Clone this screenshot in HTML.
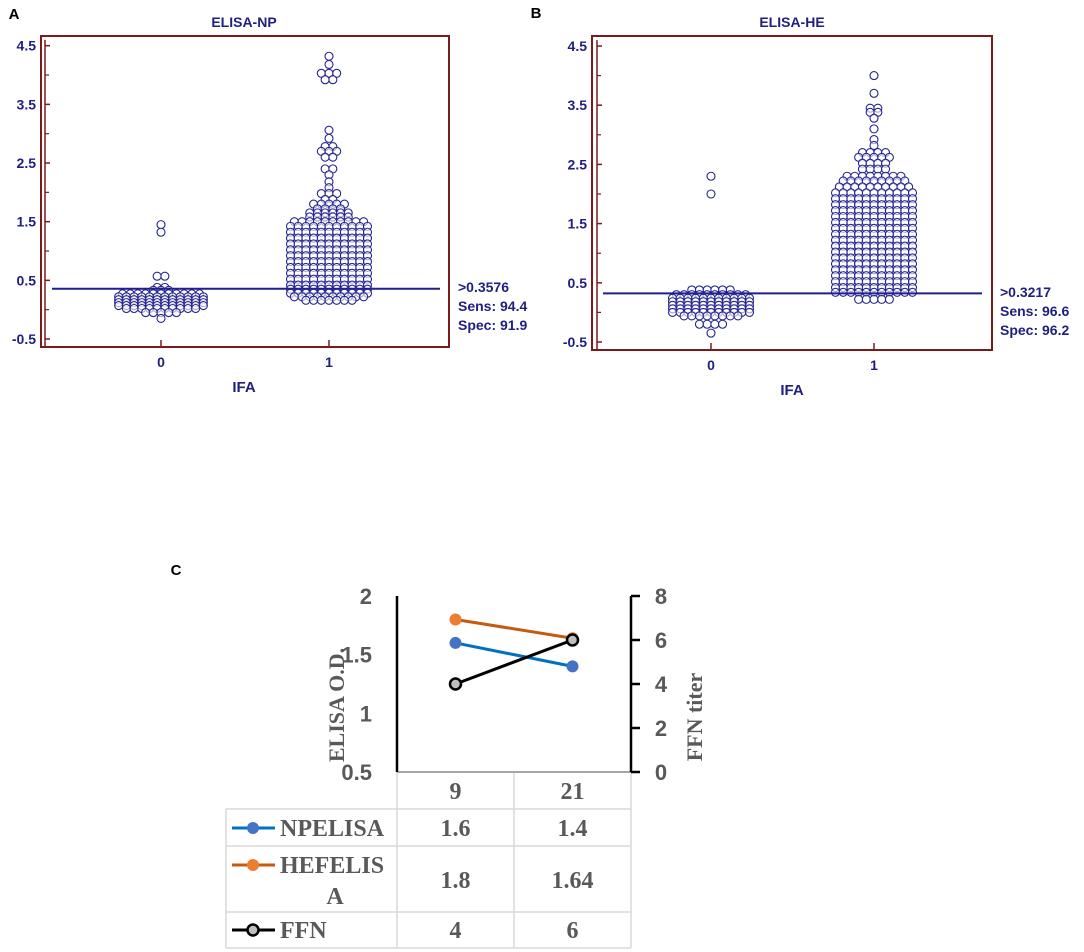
<!DOCTYPE html>
<html><head><meta charset="utf-8"><style>
html,body{margin:0;padding:0;background:#fff;}
svg{display:block;}
.nv{fill:#1f1f7f;font-family:"Liberation Sans",sans-serif;font-weight:bold;}
.gs{fill:#595959;font-family:"Liberation Sans",sans-serif;font-weight:bold;}
.gr{fill:#595959;font-family:"Liberation Serif",serif;font-weight:bold;}
</style></head><body>
<svg id="fig" width="1084" height="952" viewBox="0 0 1084 952" xmlns="http://www.w3.org/2000/svg">
<g id="panelA"></g>
<g id="panelB"></g>
<g id="panelC"></g>
</svg>
<script>
// ---- Panel A data: value levels and number of points at each level ----
const aG0Levels = [1.45,1.32,0.57,0.38,0.33,0.27,0.22,0.17,0.12,0.07,0.02,-0.05,-0.15];
const aG0Counts = [1,1,2,2,3,11,12,12,12,12,10,5,1];
const aG1Levels = [4.32,4.18,4.03,3.92,3.06,2.92,2.78,2.70,2.60,2.40,2.30,2.18,2.08,1.98,1.88,1.80,1.72,1.65,1.58,1.50,1.42,1.32,1.22,1.12,1.02,0.92,0.82,0.72,0.62,0.52,0.42,0.35,0.28,0.22,0.16];
const aG1Counts = [1,1,3,2,1,1,2,3,2,2,1,1,1,3,2,5,4,6,6,10,11,11,11,11,11,11,11,11,11,11,11,11,11,10,7];
const aCutoff = 0.3576;
const aStats = [">0.3576","Sens: 94.4","Spec: 91.9"];
// ---- Panel B data ----
const bG0Levels = [2.3,2.0,0.38,0.30,0.24,0.18,0.12,0.06,0.0,-0.06,-0.2,-0.35];
const bG0Counts = [1,1,6,10,11,11,11,11,11,8,4,1];
const bG1Levels = [4.0,3.7,3.45,3.38,3.28,3.1,2.92,2.82,2.7,2.62,2.52,2.42,2.3,2.22,2.12,2.02,1.92,1.82,1.72,1.62,1.52,1.42,1.32,1.22,1.12,1.02,0.92,0.82,0.72,0.62,0.52,0.42,0.34,0.22];
const bG1Counts = [1,1,2,2,1,1,1,1,4,5,4,4,8,9,10,11,11,11,11,11,11,11,11,11,11,11,11,11,11,11,11,11,11,5];
const bCutoff = 0.3217;
const bStats = [">0.3217","Sens: 96.6","Spec: 96.2"];
const yTickLabels = ["4.5","3.5","2.5","1.5","0.5","-0.5"];
const yTickValues = [4.5,3.5,2.5,1.5,0.5,-0.5];
const yMinorValues = [4,3,2,1,0];
const catLabels = ["0","1"];
// ---- Panel C data ----
const cCats = ["9","21"];
const cNP = [1.6,1.4];
const cHE = [1.8,1.64];
const cFFN = [4,6];
const cLeftTicks = [0.5,1,1.5,2];
const cLeftTickLabels = ["0.5","1","1.5","2"];
const cRightTicks = [0,2,4,6,8];
const cRightTickLabels = ["0","2","4","6","8"];
const cNPLabels = ["1.6","1.4"];
const cHELabels = ["1.8","1.64"];
const cFFNLabels = ["4","6"];

const NS="http://www.w3.org/2000/svg";
function mk(tag, attrs, parent, txt){const e=document.createElementNS(NS,tag);for(const k in attrs)e.setAttribute(k,attrs[k]);if(txt!==undefined)e.textContent=txt;parent.appendChild(e);return e;}

function panel(g, cfg){
  const red="#7b1a1a";
  const ys = v => cfg.yBot - (v+0.5)*(cfg.yBot-cfg.yTop)/5;
  const t=mk('text',{x:cfg.lblX,y:cfg.lblY,'font-size':15,'text-anchor':'middle',fill:'#000','font-family':'Liberation Sans, sans-serif','font-weight':'bold'},g,cfg.label);
  
  
  const ti=mk('text',{x:cfg.titleX,y:27,'font-size':14,'text-anchor':'middle',class:'nv'},g,cfg.title);
  
  
  const fr=mk('rect',{x:cfg.fx0,y:cfg.fy0,width:cfg.fx1-cfg.fx0,height:cfg.fy1-cfg.fy0,fill:'none',stroke:red,'stroke-width':2},g);
  
  
  const ax=mk('line',{x1:cfg.axX,x2:cfg.axX,y1:ys(4.6),y2:cfg.fy1,stroke:red,'stroke-width':1.5},g);
  
  
  yTickValues.forEach((v,i)=>{
    const tk=mk('line',{x1:cfg.axX,x2:cfg.axX+5,y1:ys(v),y2:ys(v),stroke:red,'stroke-width':1.5},g);
    
    
    const tl=mk('text',{x:cfg.tickRight,y:ys(v)+5,'font-size':14,'text-anchor':'end',class:'nv'},g,yTickLabels[i]);
    
    
  });
  yMinorValues.forEach(v=>{
    const tk=mk('line',{x1:cfg.axX,x2:cfg.axX+4,y1:ys(v),y2:ys(v),stroke:red,'stroke-width':1.2},g);
    
    
  });
  cfg.cats.forEach((cx,i)=>{
    const tk=mk('line',{x1:cx,x2:cx,y1:cfg.fy1-7,y2:cfg.fy1,stroke:red,'stroke-width':1.5},g);
    
    
    const tl=mk('text',{x:cx,y:cfg.fy1+20,'font-size':14,'text-anchor':'middle',class:'nv'},g,catLabels[i]);
    
    
  });
  const xt=mk('text',{x:cfg.titleX,y:cfg.fy1+45,'font-size':15,'text-anchor':'middle',class:'nv'},g,'IFA');
  
  
  const groups=[[cfg.g0L,cfg.g0C],[cfg.g1L,cfg.g1C]];
  groups.forEach((gr,gi)=>{
    const gg=mk('g',{},g);
    
    
    gr[0].forEach((lv,li)=>{
      const n=gr[1][li];
      for(let k=0;k<n;k++){
        const off=(k-(n-1)/2)*7.7;
        const c=mk('circle',{cx:cfg.cats[gi]+off,cy:ys(lv),r:4,fill:'#fff','fill-opacity':0.6,stroke:'#26268f','stroke-width':1.1},gg);
        
        
      }
    });
  });
  const cl=mk('line',{x1:cfg.cutX0,x2:cfg.cutX1,y1:ys(cfg.cut),y2:ys(cfg.cut),stroke:'#1f1f8f','stroke-width':2},g);
  
  
  cfg.stats.forEach((s,i)=>{
    const st=mk('text',{x:cfg.statX,y:cfg.statY+i*19,'font-size':14,class:'nv'},g,s);
    
    
  });
}
panel(document.getElementById('panelA'),{label:'A',lblX:14,lblY:19,title:'ELISA-NP',titleX:244,fx0:41,fy0:36,fx1:449,fy1:347,axX:45,yTop:45.7,yBot:339,tickRight:36,cats:[161,329],g0L:aG0Levels,g0C:aG0Counts,g1L:aG1Levels,g1C:aG1Counts,cut:aCutoff,cutX0:52,cutX1:440,stats:aStats,statX:458,statY:292});
panel(document.getElementById('panelB'),{label:'B',lblX:536,lblY:18,title:'ELISA-HE',titleX:792,fx0:592,fy0:36,fx1:992,fy1:350,axX:597,yTop:46,yBot:342,tickRight:587,cats:[711,874],g0L:bG0Levels,g0C:bG0Counts,g1L:bG1Levels,g1C:bG1Counts,cut:bCutoff,cutX0:603,cutX1:982,stats:bStats,statX:1000,statY:297});

// ---- Panel C ----
(function(){
  const g=document.getElementById('panelC');
  const xL=397,xR=631,yT=596,yB=772;
  const yl=v=>yB-(v-0.5)*(yB-yT)/1.5;
  const yr=v=>yB-v*(yB-yT)/8;
  const xc=i=>xL+(i+0.5)*(xR-xL)/cCats.length;
  const lb=mk('text',{x:176,y:575,'font-size':15,'text-anchor':'middle','font-family':'Liberation Sans, sans-serif','font-weight':'bold'},g,'C');
  
  
  const grid=mk('g',{stroke:'#d9d9d9','stroke-width':1.5},g);
  
  
  [[226,809,226,948],[397,772,397,948],[514,772,514,948],[631,772,631,948],[226,809,631,809],[226,846,631,846],[226,912,631,912],[226,948,631,948]].forEach(l=>{
    const e=mk('line',{x1:l[0],y1:l[1],x2:l[2],y2:l[3]},grid);
    
    
  });
  const xa=mk('line',{x1:xL,x2:xR,y1:yB,y2:yB,stroke:'#a6a6a6','stroke-width':2},g);
  
  
  const la=mk('line',{x1:xL,x2:xL,y1:yT,y2:yB,stroke:'#000','stroke-width':2.5},g);
  
  
  const ra=mk('line',{x1:xR,x2:xR,y1:yT,y2:yB,stroke:'#000','stroke-width':2.5},g);
  
  
  cLeftTicks.forEach((v,i)=>{
    const t=mk('text',{x:372,y:yl(v)+8,'font-size':22,'text-anchor':'end',class:'gs'},g,cLeftTickLabels[i]);
    
    
  });
  cRightTicks.forEach((v,i)=>{
    const tk=mk('line',{x1:xR,x2:xR+9,y1:yr(v),y2:yr(v),stroke:'#000','stroke-width':2.5},g);
    
    
    const t=mk('text',{x:661,y:yr(v)+8,'font-size':22,'text-anchor':'middle',class:'gs'},g,cRightTickLabels[i]);
    
    
  });
  const lt=mk('text',{x:0,y:0,'font-size':22,'text-anchor':'middle',class:'gr',transform:'translate(344,705) rotate(-90)'},g,'ELISA O.D.');
  
  
  const rt=mk('text',{x:0,y:0,'font-size':22,'text-anchor':'middle',class:'gr',transform:'translate(702,717) rotate(-90)'},g,'FFN titer');
  
  
  function series(vals,yf,line,mfill,mstroke,name){
    const sg=mk('g',{},g);
    
    
    const p=mk('polyline',{points:vals.map((v,i)=>xc(i)+','+yf(v)).join(' '),fill:'none',stroke:line,'stroke-width':3},sg);
    
    
    vals.forEach((v,i)=>{
      const c=mk('circle',{cx:xc(i),cy:yf(v),r:5.5,fill:mfill,stroke:mstroke,'stroke-width':mstroke==='#000'?2.5:1},sg);
      
      
    });
  }
  series(cNP,yl,'#0070c0','#4472c4','#4472c4','npelisa');
  series(cHE,yl,'#c55a11','#ed7d31','#ed7d31','hefelisa');
  series(cFFN,yr,'#000','#bfbfbf','#000','ffn');
  cCats.forEach((c,i)=>{
    const t=mk('text',{x:xc(i),y:799,'font-size':24,'text-anchor':'middle',class:'gr'},g,c);
    
    
  });
  const rows=[[cNPLabels,836,'#0070c0','#4472c4','#4472c4',['NPELISA'],[836]],[cHELabels,888,'#c55a11','#ed7d31','#ed7d31',['HEFELIS','A'],[873,904]],[cFFNLabels,938,'#000','#bfbfbf','#000',['FFN'],[938]]];
  rows.forEach((r)=>{
    const ly=r[6][0]-8;
    const ll=mk('line',{x1:232,x2:275,y1:ly,y2:ly,stroke:r[2],'stroke-width':3},g);
    
    
    const lm=mk('circle',{cx:253,cy:ly,r:5.5,fill:r[3],stroke:r[4],'stroke-width':r[4]==='#000'?2.5:1},g);
    
    
    r[5].forEach((s,si)=>{
      const t=mk('text',{x:si===0?280:335,y:r[6][si],'font-size':24,'text-anchor':si===0?'start':'middle',class:'gr'},g,s);
      
      
    });
    r[0].forEach((s,i)=>{
      const t=mk('text',{x:xc(i),y:r[1],'font-size':24,'text-anchor':'middle',class:'gr'},g,s);
      
      
    });
  });
})();
</script>
</body></html>
